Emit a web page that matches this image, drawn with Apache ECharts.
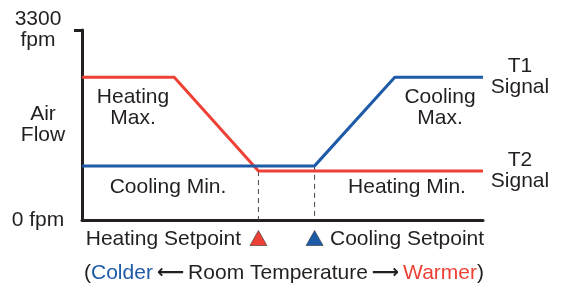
<!DOCTYPE html>
<html>
<head>
<meta charset="utf-8">
<script src="https://cdn.jsdelivr.net/npm/echarts@6/dist/echarts.min.js"></script>
<style>
  html, body { margin: 0; padding: 0; background: #fff; }
  #chart { width: 561px; height: 289px; }
</style>
</head>
<body>
<div id="chart"></div>
<script>
// room temperature position (0 = colder, 100 = warmer), air flow in fpm
var heatingX = [0, 23, 44, 100];
var heatingY = [2480, 2480, 850, 850];
var coolingX = [0, 58, 78, 100];
var coolingY = [940, 940, 2480, 2480];
var setpoints = [44, 58];            // heating, cooling
var setpointFlow = [850, 940];
var yTicks = [0, 3300];

var RED = '#ee4136';
var BLUE = '#1d5aa8';
var INK = '#231f20';
var FONT = '"Liberation Sans", Arial, sans-serif';
var FS = 21;

function pairs(xs, ys) {
  return xs.map(function (x, i) { return [x, ys[i]]; });
}

var chartDom = document.getElementById('chart');
var myChart = echarts.init(chartDom, null, { renderer: 'canvas' });

var txt = { fontFamily: FONT, fontSize: FS, fill: INK, lineHeight: 21 };
function label(x, y, text, align) {
  return {
    type: 'text', x: x, y: y,
    style: Object.assign({ text: text, textAlign: align || 'center', textVerticalAlign: 'middle' }, txt)
  };
}

var option = {
  animation: false,
  grid: { left: 82, right: 78, top: 30, bottom: 69, outerBoundsMode: 'none', containLabel: false },
  xAxis: {
    type: 'value', min: 0, max: 100,
    axisLine: { show: true, lineStyle: { color: INK, width: 3 } },
    axisTick: { show: false },
    axisLabel: { show: false },
    splitLine: { show: false }
  },
  yAxis: {
    type: 'value', min: 0, max: 3300,
    name: 'Air\nFlow',
    nameLocation: 'middle',
    nameRotate: 0,
    nameGap: 39,
    nameMoveOverlap: false,
    nameTextStyle: { fontFamily: FONT, fontSize: FS, color: INK, lineHeight: 21, align: 'center', verticalAlign: 'middle' },
    axisLine: { show: true, lineStyle: { color: INK, width: 3 } },
    axisTick: { show: true, customValues: [3300], length: 8, lineStyle: { color: INK, width: 3 } },
    axisLabel: {
      customValues: yTicks,
      align: 'center',
      margin: 44,
      fontFamily: FONT, fontSize: FS, color: INK, lineHeight: 21,
      formatter: function (v) { return v === 0 ? '0 fpm' : v + '\nfpm'; }
    },
    splitLine: { show: false }
  },
  series: [
    {
      type: 'line', data: pairs(heatingX, heatingY),
      symbol: 'none', lineStyle: { color: RED, width: 3 }, z: 3
    },
    {
      type: 'line', data: pairs(coolingX, coolingY),
      symbol: 'none', lineStyle: { color: BLUE, width: 3 }, z: 4
    },
    {
      type: 'line', data: [[setpoints[0], setpointFlow[0]], [setpoints[0], 0]],
      symbol: 'none', lineStyle: { color: '#444', width: 1, type: [5, 4] }, z: 2
    },
    {
      type: 'line', data: [[setpoints[1], setpointFlow[1]], [setpoints[1], 0]],
      symbol: 'none', lineStyle: { color: '#444', width: 1, type: [5, 4] }, z: 2
    },
    {
      type: 'scatter', clip: false,
      data: [
        { value: [setpoints[0], 0], itemStyle: { color: RED } },
        { value: [setpoints[1], 0], itemStyle: { color: BLUE } }
      ],
      symbol: 'triangle', symbolSize: [17, 15], symbolOffset: [0, 18],
      itemStyle: { borderColor: '#333', borderWidth: 0.6, opacity: 1 }, z: 5
    }
  ],
  graphic: [
    label(133, 108, 'Heating\nMax.'),
    label(440, 108, 'Cooling\nMax.'),
    label(168, 187, 'Cooling Min.'),
    label(407, 187, 'Heating Min.'),
    label(520, 77, 'T1\nSignal'),
    label(520, 171, 'T2\nSignal'),
    label(241, 239, 'Heating Setpoint', 'right'),
    label(330, 239, 'Cooling Setpoint', 'left'),
    {
      type: 'text', x: 284, y: 273,
      style: {
        text: '(' + '{b|Colder}' + '{a|⟵}Room Temperature{a|⟶}' + '{r|Warmer}' + ')',
        textAlign: 'center', textVerticalAlign: 'middle',
        fontFamily: FONT, fontSize: FS, fill: INK,
        rich: {
          b: { fill: BLUE, fontFamily: FONT, fontSize: FS },
          r: { fill: RED, fontFamily: FONT, fontSize: FS },
          a: { fill: INK, fontFamily: '"DejaVu Sans", sans-serif', fontSize: 19, fontWeight: 'bold', padding: [0, 4] }
        }
      }
    }
  ]
};

option && myChart.setOption(option);
</script>
</body>
</html>
